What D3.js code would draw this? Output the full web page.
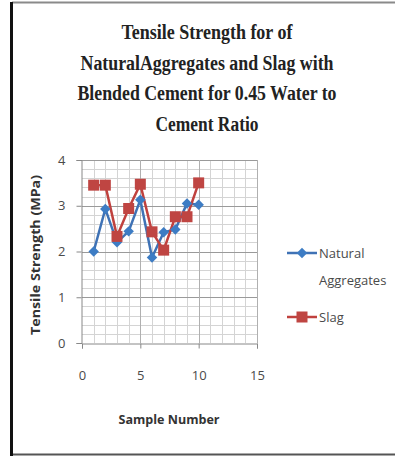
<!DOCTYPE html>
<html>
<head>
<meta charset="utf-8">
<script src="https://cdn.jsdelivr.net/npm/d3@7"></script>
<style>
  body { margin: 0; background: #fff; }
  text { font-family: "Open Sans", "DejaVu Sans", sans-serif; }
</style>
</head>
<body>
<svg id="main"></svg>
<script>
var w = 395;
var h = 457;

var sampleNo = [1, 2, 3, 4, 5, 6, 7, 8, 9, 10];
var natural = [2.0, 2.93, 2.2, 2.44, 3.13, 1.87, 2.42, 2.48, 3.05, 3.02];
var slag = [3.45, 3.45, 2.33, 2.94, 3.47, 2.43, 2.03, 2.76, 2.76, 3.5];
var xTicks = [0, 5, 10, 15];
var yTicks = [0, 1, 2, 3, 4];
var titleLines = ["Tensile Strength for of", "NaturalAggregates and Slag with",
                  "Blended Cement for 0.45 Water to", "Cement Ratio"];
var titleWidths = [171, 253, 259, 103];

var svg = d3.select("#main")
  .attr("width", w)
  .attr("height", h);

// frame of the pasted picture
svg.append("rect").attr("x", 0).attr("y", 0).attr("width", w).attr("height", h).attr("fill", "#fff");
svg.append("line").attr("x1", 12).attr("x2", w).attr("y1", 2.5).attr("y2", 2.5)
  .attr("stroke", "#8a8a8a").attr("stroke-width", 2);
svg.append("line").attr("x1", 12).attr("x2", w).attr("y1", 454.5).attr("y2", 454.5)
  .attr("stroke", "#555").attr("stroke-width", 2);
svg.append("line").attr("x1", 11.5).attr("x2", 11.5).attr("y1", 2).attr("y2", 456)
  .attr("stroke", "#111").attr("stroke-width", 3);

var xScale = d3.scaleLinear().domain([0, 15]).range([82, 257]);
var yScale = d3.scaleLinear().domain([0, 4]).range([343, 160]);

// minor grid
var g = svg.append("g");
g.selectAll("line.vminor")
  .data(d3.range(1, 16))
  .enter().append("line")
  .attr("x1", function(d) { return Math.round(xScale(d)) + 0.5; })
  .attr("x2", function(d) { return Math.round(xScale(d)) + 0.5; })
  .attr("y1", yScale(4)).attr("y2", yScale(0))
  .attr("stroke", "#d4d4d4").attr("stroke-width", 1);
g.selectAll("line.hminor")
  .data(d3.range(1, 20).map(function(i) { return i * 0.2; }))
  .enter().append("line")
  .attr("x1", xScale(0)).attr("x2", xScale(15))
  .attr("y1", function(d) { return Math.round(yScale(d)) + 0.5; })
  .attr("y2", function(d) { return Math.round(yScale(d)) + 0.5; })
  .attr("stroke", "#d4d4d4").attr("stroke-width", 1);
// major grid
g.selectAll("line.hmajor")
  .data(yTicks.slice(1))
  .enter().append("line")
  .attr("x1", xScale(0)).attr("x2", xScale(15))
  .attr("y1", function(d) { return Math.round(yScale(d)) + 0.5; })
  .attr("y2", function(d) { return Math.round(yScale(d)) + 0.5; })
  .attr("stroke", "#9a9a9a").attr("stroke-width", 1.2);
g.selectAll("line.vmajor")
  .data(xTicks.slice(1))
  .enter().append("line")
  .attr("x1", function(d) { return Math.round(xScale(d)) + 0.5; })
  .attr("x2", function(d) { return Math.round(xScale(d)) + 0.5; })
  .attr("y1", yScale(4)).attr("y2", yScale(0))
  .attr("stroke", "#b0b0b0").attr("stroke-width", 1);

// axes
var xAxis = d3.axisBottom(xScale).tickValues(xTicks).tickFormat(d3.format("d"))
  .tickSize(5).tickPadding(22);
var yAxis = d3.axisLeft(yScale).tickValues(yTicks).tickFormat(d3.format("d"))
  .tickSize(5).tickPadding(11);

var gx = svg.append("g")
  .attr("transform", "translate(0," + (yScale(0) + 0.5) + ")")
  .call(xAxis);
var gy = svg.append("g")
  .attr("transform", "translate(" + (xScale(0) - 0.5) + ",0)")
  .call(yAxis);
[gx, gy].forEach(function(a) {
  a.select(".domain").attr("stroke", "#888");
  a.selectAll(".tick line").attr("stroke", "#888");
  a.selectAll(".tick text").attr("fill", "#4a4a4a").style("font-size", "13px")
    .style("font-family", "'Open Sans', sans-serif");
});

// series
var line = d3.line()
  .x(function(d, i) { return xScale(sampleNo[i]); })
  .y(function(d) { return yScale(d); });

svg.append("path").datum(natural)
  .attr("d", line).attr("fill", "none")
  .attr("stroke", "#3f72b5").attr("stroke-width", 2.5);
svg.append("path").datum(slag)
  .attr("d", line).attr("fill", "none")
  .attr("stroke", "#c0413e").attr("stroke-width", 2.5);

var diamond = d3.symbol().type(d3.symbolDiamond2).size(70);
svg.selectAll("path.nat")
  .data(natural).enter().append("path")
  .attr("d", diamond)
  .attr("transform", function(d, i) { return "translate(" + xScale(sampleNo[i]) + "," + yScale(d) + ")"; })
  .attr("fill", "#3d7cc4");

svg.selectAll("rect.slag")
  .data(slag).enter().append("rect")
  .attr("x", function(d, i) { return xScale(sampleNo[i]) - 5.5; })
  .attr("y", function(d) { return yScale(d) - 5.5; })
  .attr("width", 11).attr("height", 11)
  .attr("fill", "#bf4542");

// title
svg.selectAll("text.title")
  .data(titleLines).enter().append("text")
  .attr("x", 207)
  .attr("y", function(d, i) { return 39 + i * 30.5; })
  .attr("text-anchor", "middle")
  .attr("textLength", function(d, i) { return titleWidths[i]; })
  .attr("lengthAdjust", "spacingAndGlyphs")
  .style("font-family", "'Liberation Serif', 'Times New Roman', serif")
  .style("font-weight", "bold")
  .style("font-size", "20px")
  .attr("fill", "#222")
  .text(function(d) { return d; });

// axis titles
svg.append("text")
  .attr("transform", "translate(40,255) rotate(-90)")
  .attr("text-anchor", "middle")
  .attr("textLength", 160).attr("lengthAdjust", "spacingAndGlyphs")
  .style("font-size", "12px").style("font-weight", "bold")
  .attr("fill", "#333")
  .text("Tensile Strength (MPa)");

svg.append("text")
  .attr("x", 169).attr("y", 424)
  .attr("text-anchor", "middle")
  .attr("textLength", 101).attr("lengthAdjust", "spacingAndGlyphs")
  .style("font-size", "12px").style("font-weight", "bold")
  .attr("fill", "#333")
  .text("Sample Number");

// legend
var lg = svg.append("g");
lg.append("line").attr("x1", 287).attr("x2", 317).attr("y1", 253).attr("y2", 253)
  .attr("stroke", "#3f72b5").attr("stroke-width", 2.5);
lg.append("path").attr("d", diamond).attr("transform", "translate(302,253)").attr("fill", "#3d7cc4");
lg.append("line").attr("x1", 287).attr("x2", 317).attr("y1", 317).attr("y2", 317)
  .attr("stroke", "#c0413e").attr("stroke-width", 2.5);
lg.append("rect").attr("x", 296.5).attr("y", 311.5).attr("width", 11).attr("height", 11).attr("fill", "#bf4542");

lg.selectAll("text")
  .data([["Natural", 258], ["Aggregates", 285], ["Slag", 322]])
  .enter().append("text")
  .attr("x", 319).attr("y", function(d) { return d[1]; })
  .style("font-size", "13px")
  .attr("fill", "#4a4a4a")
  .text(function(d) { return d[0]; });
</script>
</body>
</html>
